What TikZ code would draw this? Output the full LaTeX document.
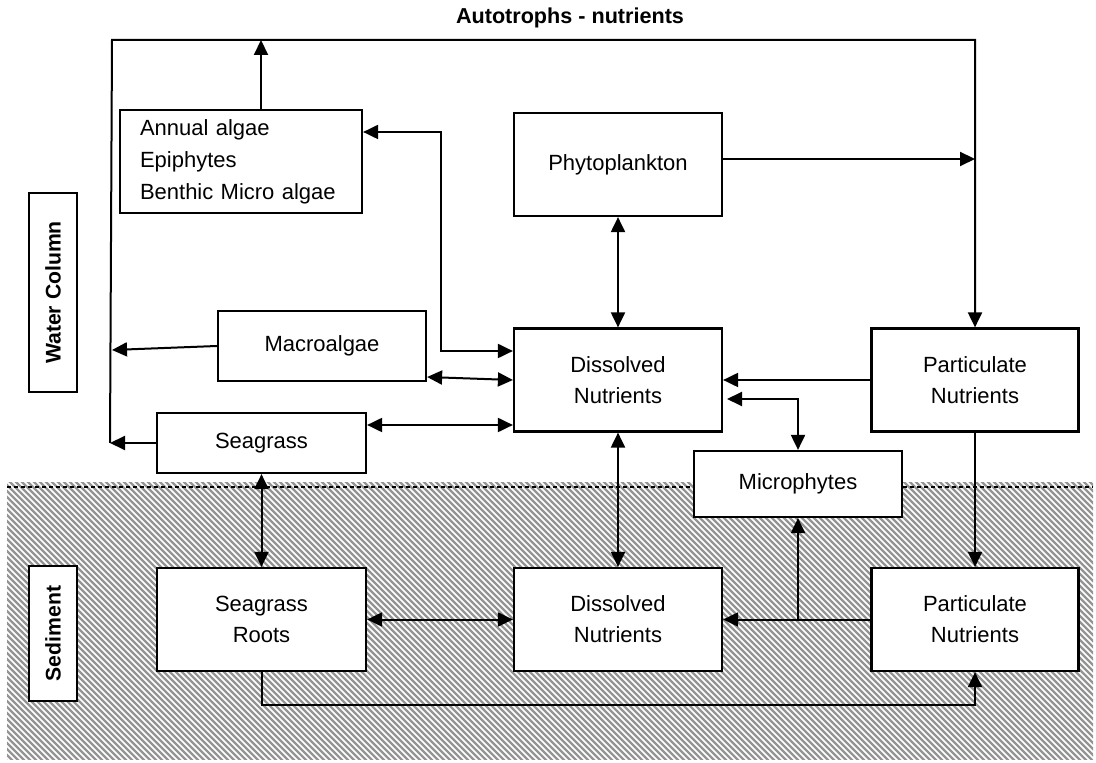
\documentclass[tikz,border=0pt]{standalone}
\usepackage{fontspec}
\setmainfont{Liberation Sans}
\usetikzlibrary{arrows.meta}

\begin{document}
\begin{tikzpicture}[
  x=0.5pt, y=-0.5pt,
  font=\fontsize{11}{15.5}\selectfont,
  >={Triangle[length=7.5pt,width=7pt]},
  box/.style={draw, fill=white, line width=1.1pt, align=center, inner sep=2pt,
              minimum width=104pt, minimum height=51.5pt},
  side/.style={box, rotate=90, font=\fontsize{10.6}{12}\selectfont\bfseries,
               minimum height=24pt},
  link/.style={line width=1pt},
  hatch/.style={black!42, line width=1.1pt}
]
\useasboundingbox (0,0) rectangle (1096,763);

% sediment layer
\begin{scope}
  \clip (7,483) rectangle (1093,759);
  \foreach \s in {-300,-294,...,1100}
    \draw[hatch] (\s,478) -- ++(290,290);
\end{scope}
\draw[line width=1pt, dash pattern=on 2.2pt off 1.3pt] (7,487) -- (1093,487);

\node[font=\fontsize{10.8}{12}\selectfont\bfseries] (title) at (570,18) {Autotrophs - nutrients};

\node[side, minimum width=99.5pt] (water) at (53,292.5) {Water Column};
\node[side, minimum width=67.5pt] (sediment) at (53,633.5) {Sediment};

\node[box, align=left, text width=101pt, inner xsep=10pt, minimum height=51.5pt,
      font=\fontsize{11}{16}\selectfont] (annual) at (241,161.5)
      {Annual algae\\Epiphytes\\Benthic Micro algae};
\node[box] (phyto) at (618,164.5) {Phytoplankton};
\node[box, minimum height=35pt] (macro) at (322,346) {Macroalgae};
\node[box] (dwat) at (618,380) {Dissolved\\Nutrients};
\node[box, minimum width=103.5pt] (pwat) at (975,380) {Particulate\\Nutrients};
\node[box, minimum width=104.5pt, minimum height=30pt] (seagrass) at (261.5,443) {Seagrass};
\node[box, minimum height=33pt] (micro) at (798,484) {Microphytes};
\node[box, minimum width=104.5pt] (sroots) at (261.5,619.5) {Seagrass\\Roots};
\node[box] (dsed) at (618,619.5) {Dissolved\\Nutrients};
\node[box, minimum width=103.5pt] (psed) at (975,619.5) {Particulate\\Nutrients};

\coordinate (tl) at (112,40);
\coordinate (mleft) at (112,350);
\coordinate (sleft) at (110,443);
\coordinate (up) at (261,40);
\coordinate (pright) at (975,159);
\coordinate (mtip) at (727,399);

\draw[link, ->] (sleft) -- (tl) -| (pwat.north);
\draw[link, ->] (annual.north -| up) -- (up);
\draw[link, ->] (phyto.east |- pright) -- (pright);
\draw[link, ->] (macro.west) -- (mleft);
\draw[link, ->] (seagrass.west) -- (sleft);
\draw[link, <->] (phyto) -- (dwat);
\draw[link, <->] (annual.east |- 0,132) -| (441,351) -- (dwat.west |- 0,351);
\draw[link, <->] (macro.east |- 0,377) -- (dwat.west |- 0,380);
\draw[link, <->] (seagrass.east |- 0,425) -- (dwat.west |- 0,425);
\draw[link, ->] (pwat) -- (dwat);
\draw[link, <->] (mtip) -| (micro.north);
\draw[link, ->] (pwat) -- (psed);
\draw[link, <->] (seagrass) -- (sroots);
\draw[link, <->] (dwat) -- (dsed);
\draw[link, <->] (sroots) -- (dsed);
\draw[link, ->] (psed) -- (dsed);
\draw[link, ->] (micro.south |- dsed.east) -- (micro.south);
\draw[link, ->] (sroots.south) -- ++(0,33) -| (psed.south);
\end{tikzpicture}
\end{document}
